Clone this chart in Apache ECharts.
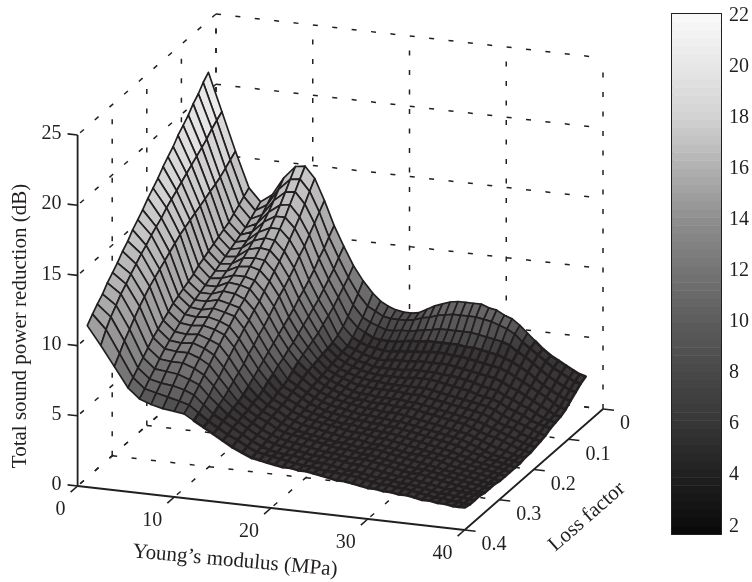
<!DOCTYPE html>
<html><head><meta charset="utf-8">
<style>html,body{margin:0;padding:0;background:#fff}#c{width:752px;height:582px}</style>
<script src="https://cdn.jsdelivr.net/npm/echarts@6/dist/echarts.min.js"></script>
</head><body><div id="c"></div>
<script>
const modulusTicks=[0,10,20,30,40];
const lossTicks=[0,0.1,0.2,0.3,0.4];
const zTicks=[0,5,10,15,20,25];
const barTicks=[2,4,6,8,10,12,14,16,18,20,22];
const toneZ=[1.7,2,4,6,8,10,12,14,16,18,20,22.05];
const toneGray=[8,12,32,54,72,92,116,142,176,210,230,250];
const shadeZ=[1.7,5.6,6,7,8,9,11,14,17,20,22.05];
const shadeGray=[40,62,74,98,114,132,158,186,212,232,242];
const modulusGrid=[1,2.4,3.8,5.2,6.4,7.6,8.8,10,11,12,13,14,15,16,17,18,18.8,19.6,20.4,21.2,22,22.8,23.6,24.4,25.2,26,26.8,27.6,28.4,29.2,30,30.8,31.6,32.4,33.2,34,34.8,35.6,36.4,37.2,38,38.8,39.4,40];
const lossGrid=[.05,.065,.079,.094,.108,.123,.138,.152,.167,.181,.196,.21,.225,.24,.254,.269,.283,.298,.313,.327,.342,.356,.371,.385,.40];
const surfaceZ=[
[22.0,21.6,21.1,20.7,20.2,19.8,19.4,18.9,18.5,18.1,17.6,17.2,16.8,16.3,15.9,15.5,15.0,14.6,14.1,13.7,13.3,12.8,12.4,12.0,11.5],
[19.3,19.0,18.7,18.3,18.0,17.7,17.4,17.1,16.8,16.5,16.2,15.9,15.5,15.2,14.9,14.5,14.2,13.8,13.4,13.0,12.6,12.1,11.6,11.0,10.2],
[16.6,16.3,16.0,15.7,15.5,15.3,15.1,14.9,14.7,14.5,14.3,14.1,13.8,13.5,13.2,12.9,12.6,12.3,11.9,11.5,11.0,10.5,10.0,9.4,8.8],
[14.1,13.8,13.5,13.2,12.9,12.7,12.5,12.3,12.1,11.9,11.7,11.4,11.2,11.0,10.8,10.6,10.3,10.0,9.7,9.4,9.0,8.6,8.2,7.8,7.4],
[13.2,12.9,12.6,12.3,12.1,11.9,11.7,11.5,11.3,11.1,10.9,10.7,10.5,10.3,10.1,9.9,9.6,9.3,9.0,8.7,8.3,7.9,7.5,7.1,6.7],
[13.8,13.4,13.0,12.7,12.4,12.1,11.9,11.6,11.4,11.2,11.0,10.7,10.5,10.3,10.0,9.8,9.5,9.2,8.9,8.6,8.2,7.8,7.3,6.9,6.4],
[15.1,14.6,14.1,13.6,13.2,12.8,12.5,12.2,11.9,11.6,11.3,11.1,10.8,10.5,10.2,9.9,9.6,9.3,9.0,8.6,8.2,7.7,7.2,6.7,6.2],
[16.0,15.4,14.8,14.2,13.7,13.2,12.8,12.4,12.0,11.7,11.3,11.0,10.7,10.3,10.0,9.7,9.4,9.0,8.7,8.3,7.9,7.4,7.0,6.5,6.1],
[16.1,15.5,14.9,14.3,13.7,13.2,12.7,12.3,11.9,11.5,11.1,10.8,10.4,10.1,9.8,9.4,9.1,8.7,8.3,7.9,7.5,7.1,6.7,6.3,6.0],
[15.3,14.7,14.1,13.5,13.0,12.5,12.0,11.6,11.2,10.8,10.4,10.0,9.7,9.3,9.0,8.6,8.3,7.9,7.5,7.1,6.8,6.4,6.1,5.8,5.6],
[13.8,13.3,12.8,12.3,11.8,11.4,10.9,10.5,10.1,9.8,9.4,9.0,8.6,8.3,7.9,7.6,7.2,6.9,6.6,6.3,6.0,5.8,5.5,5.3,5.2],
[12.1,11.6,11.1,10.7,10.2,9.8,9.4,9.1,8.7,8.4,8.1,7.8,7.5,7.2,6.9,6.6,6.3,6.0,5.7,5.5,5.4,5.2,5.1,4.9,4.8],
[10.7,10.2,9.7,9.3,8.9,8.5,8.2,7.9,7.6,7.3,7.0,6.8,6.5,6.3,6.0,5.8,5.5,5.3,5.2,5.0,4.9,4.8,4.7,4.5,4.4],
[9.4,8.9,8.5,8.1,7.7,7.4,7.1,6.8,6.6,6.4,6.2,6.0,5.7,5.4,5.2,5.1,4.9,4.8,4.7,4.6,4.5,4.4,4.3,4.2,4.0],
[8.4,7.8,7.3,6.8,6.4,6.1,5.9,5.8,5.7,5.6,5.5,5.4,5.2,5.0,4.9,4.7,4.6,4.5,4.4,4.3,4.1,4.0,3.9,3.8,3.7],
[7.6,7.0,6.5,6.1,5.7,5.4,5.3,5.2,5.1,5.0,4.9,4.8,4.7,4.6,4.5,4.4,4.2,4.1,4.0,3.9,3.8,3.7,3.6,3.5,3.4],
[7.1,6.7,6.2,5.8,5.4,5.2,5.0,4.9,4.8,4.7,4.6,4.5,4.4,4.3,4.2,4.1,4.0,3.9,3.8,3.7,3.6,3.5,3.4,3.4,3.3],
[6.8,6.4,6.0,5.5,5.2,5.0,4.8,4.7,4.6,4.5,4.4,4.3,4.2,4.1,4.0,3.9,3.8,3.7,3.6,3.6,3.5,3.4,3.3,3.3,3.2],
[6.6,6.3,5.8,5.4,5.1,4.8,4.7,4.5,4.4,4.3,4.2,4.1,4.0,3.9,3.8,3.8,3.7,3.6,3.5,3.5,3.4,3.3,3.2,3.2,3.1],
[6.5,6.3,5.8,5.4,5.0,4.7,4.5,4.4,4.3,4.1,4.0,3.9,3.9,3.8,3.7,3.6,3.6,3.5,3.4,3.4,3.3,3.2,3.2,3.1,3.0],
[6.5,6.3,5.9,5.4,5.0,4.7,4.5,4.3,4.2,4.1,3.9,3.8,3.8,3.7,3.6,3.5,3.5,3.4,3.3,3.3,3.2,3.1,3.1,3.0,3.0],
[6.6,6.4,5.9,5.5,5.1,4.8,4.5,4.3,4.2,4.0,3.9,3.8,3.7,3.6,3.5,3.4,3.4,3.3,3.2,3.2,3.1,3.0,3.0,2.9,2.9],
[6.9,6.6,6.0,5.6,5.1,4.8,4.5,4.3,4.1,4.0,3.8,3.7,3.6,3.5,3.4,3.4,3.3,3.2,3.1,3.1,3.0,3.0,2.9,2.9,2.9],
[7.2,6.7,6.1,5.6,5.2,4.8,4.5,4.3,4.1,4.0,3.8,3.7,3.6,3.5,3.4,3.3,3.2,3.1,3.1,3.0,3.0,2.9,2.9,2.8,2.8],
[7.4,6.9,6.2,5.7,5.2,4.9,4.6,4.3,4.1,4.0,3.8,3.7,3.5,3.4,3.3,3.2,3.2,3.1,3.0,3.0,2.9,2.9,2.8,2.7,2.7],
[7.6,7.0,6.3,5.7,5.3,4.9,4.6,4.4,4.1,3.9,3.8,3.6,3.5,3.4,3.3,3.2,3.1,3.0,2.9,2.9,2.8,2.8,2.7,2.7,2.6],
[7.7,7.1,6.3,5.7,5.3,4.9,4.6,4.4,4.1,3.9,3.7,3.6,3.5,3.3,3.2,3.1,3.0,2.9,2.9,2.8,2.8,2.7,2.6,2.6,2.5],
[7.7,7.1,6.3,5.7,5.3,4.9,4.6,4.4,4.1,3.9,3.7,3.6,3.4,3.3,3.2,3.1,3.0,2.9,2.9,2.8,2.8,2.7,2.6,2.6,2.5],
[7.7,7.1,6.3,5.7,5.2,4.9,4.5,4.3,4.0,3.8,3.6,3.5,3.3,3.2,3.1,3.0,2.9,2.8,2.8,2.7,2.7,2.6,2.5,2.5,2.4],
[7.7,7.1,6.3,5.6,5.2,4.8,4.5,4.2,3.9,3.7,3.5,3.4,3.2,3.1,3.0,2.9,2.8,2.7,2.7,2.6,2.6,2.5,2.4,2.4,2.3],
[7.5,7.0,6.2,5.6,5.1,4.7,4.4,4.1,3.8,3.6,3.4,3.3,3.1,3.0,2.9,2.8,2.7,2.6,2.6,2.5,2.5,2.4,2.3,2.3,2.2],
[7.4,6.9,6.1,5.5,5.0,4.6,4.3,4.0,3.7,3.5,3.3,3.2,3.0,2.9,2.8,2.7,2.6,2.5,2.5,2.4,2.4,2.3,2.3,2.2,2.2],
[7.1,6.7,6.0,5.4,4.9,4.5,4.2,3.9,3.6,3.4,3.2,3.1,2.9,2.8,2.7,2.6,2.5,2.5,2.4,2.3,2.3,2.2,2.2,2.2,2.1],
[6.9,6.5,5.9,5.3,4.8,4.4,4.0,3.7,3.5,3.3,3.1,3.0,2.8,2.7,2.6,2.5,2.4,2.4,2.3,2.2,2.2,2.2,2.1,2.1,2.1],
[6.5,6.2,5.7,5.1,4.7,4.3,3.9,3.6,3.4,3.2,3.0,2.9,2.7,2.6,2.5,2.4,2.3,2.3,2.2,2.2,2.2,2.1,2.1,2.1,2.0],
[6.0,5.7,5.3,4.9,4.5,4.1,3.8,3.5,3.3,3.1,2.9,2.7,2.6,2.5,2.4,2.3,2.2,2.2,2.1,2.1,2.1,2.0,2.0,2.0,2.0],
[5.5,5.3,5.0,4.6,4.2,3.8,3.5,3.3,3.1,2.9,2.7,2.5,2.4,2.3,2.2,2.1,2.1,2.0,2.0,2.0,2.0,1.9,1.9,1.9,1.9],
[5.0,4.9,4.6,4.3,3.9,3.6,3.3,3.0,2.8,2.6,2.5,2.3,2.2,2.1,2.0,2.0,1.9,1.9,1.9,1.9,1.9,1.8,1.8,1.8,1.8],
[4.6,4.5,4.2,3.9,3.6,3.3,3.0,2.8,2.6,2.4,2.3,2.2,2.0,1.9,1.9,1.8,1.8,1.8,1.8,1.8,1.8,1.7,1.7,1.7,1.8],
[4.3,4.1,3.8,3.5,3.3,3.0,2.8,2.6,2.4,2.3,2.1,2.0,1.8,1.7,1.7,1.7,1.7,1.7,1.7,1.7,1.7,1.7,1.7,1.7,1.7],
[4.0,3.8,3.5,3.2,3.0,2.7,2.5,2.3,2.2,2.0,1.9,1.8,1.7,1.6,1.6,1.6,1.6,1.6,1.6,1.6,1.6,1.6,1.6,1.6,1.7],
[3.7,3.5,3.2,2.9,2.6,2.4,2.2,2.1,2.0,1.8,1.7,1.6,1.5,1.5,1.5,1.5,1.5,1.5,1.5,1.5,1.5,1.6,1.6,1.6,1.6],
[3.5,3.3,3.0,2.7,2.4,2.2,2.1,2.0,1.8,1.7,1.6,1.5,1.4,1.4,1.4,1.4,1.4,1.4,1.4,1.4,1.4,1.5,1.5,1.5,1.6],
[3.4,3.2,2.9,2.6,2.3,2.1,2.0,1.9,1.7,1.6,1.5,1.4,1.4,1.3,1.3,1.3,1.3,1.3,1.4,1.4,1.4,1.5,1.5,1.5,1.6]
];
const INK='#231f20';
const FONT='"Liberation Serif","Times New Roman",serif';
const DARK_Z=5.6, SLIT='#383636';
/* orthographic view: data → flat plane, which the hidden cartesian axes map to pixels */
const proj=(E,L,z)=>[216+9.675*E-346*L, 365+1.1*E+302.5*L-14.04*z];
const BANDS=64, BAR_MIN=1.7, BAR_MAX=22.05;
function grayOf(z,xs,ys){
  const t=Math.max(BAR_MIN,Math.min(BAR_MAX,z));
  const b=Math.min(BANDS-1,Math.floor((t-BAR_MIN)/(BAR_MAX-BAR_MIN)*BANDS));
  const c=BAR_MIN+(b+.5)*(BAR_MAX-BAR_MIN)/BANDS;
  let i=0; while(i<xs.length-2&&c>xs[i+1])i++;
  const g=Math.round(ys[i]+(ys[i+1]-ys[i])*(c-xs[i])/(xs[i+1]-xs[i]));
  return `rgb(${g},${g},${g})`;
}
/* cells back to front */
const cells=[];
for(let j=0;j<lossGrid.length-1;j++)for(let i=0;i<modulusGrid.length-1;i++)cells.push([i,j]);
/* dashed grid + solid axes */
let segs=[];
const M0=0,M1=40,L0=0,L1=.4,Z0=0,Z1=25;
zTicks.forEach(z=>{segs.push([M0,L0,z,M0,L1,z]);segs.push([M0,L0,z,M1,L0,z]);});
lossTicks.forEach(l=>{if(l<L1){segs.push([M0,l,Z0,M0,l,Z1]);segs.push([M0,l,Z0,M1,l,Z0]);}});
modulusTicks.forEach(m=>{segs.push([m,L0,Z0,m,L0,Z1]);if(m<M1)segs.push([m,L0,Z0,m,L1,Z0]);});
const axes=[[M0,L1,Z0,M1,L1,Z0],[M1,L0,Z0,M1,L1,Z0],[M0,L1,Z0,M0,L1,Z1]];
const ticks=[];
zTicks.forEach(z=>ticks.push([M0,L1,z,-10,-1.1]));
modulusTicks.forEach(m=>ticks.push([m,L1,Z0,-7,6.2]));
lossTicks.forEach(l=>ticks.push([M1,l,Z0,11,1.2]));
const labels=[];
zTicks.forEach(z=>{const p=proj(M0,L1,z);labels.push([String(z),p[0]-16,p[1]-1,'right']);});
modulusTicks.forEach(m=>{const p=proj(m,L1,Z0);labels.push([String(m),p[0]-12,p[1]+24,'right']);});
lossTicks.forEach(l=>{const p=proj(M1,l,Z0);labels.push([String(l),p[0]+17,p[1]+15,'left']);});
const titles=[["Young\u2019s modulus (MPa)",235,561,-0.09],["Loss factor",587,517,0.72],["Total sound power reduction (dB)",20,326,Math.PI/2]];
const bandEdges=[];
for(let b=0;b<BANDS;b++)bandEdges.push(BAR_MIN+b*(BAR_MAX-BAR_MIN)/BANDS);
const chart=echarts.init(document.getElementById('c'),null,{renderer:'canvas'});
const hiddenAxis={show:false,axisLine:{show:false},axisTick:{show:false},axisLabel:{show:false},splitLine:{show:false}};
const barTickStyle={customValues:barTicks,inside:true,length:6,lineStyle:{color:INK,width:1.6}};
const barLine={show:true,onZero:false,lineStyle:{color:INK,width:2}};
chart.setOption({
  animation:false,backgroundColor:'#fff',
  grid:[{left:0,top:0,width:752,height:582},{left:672,top:14,width:49,height:520}],
  xAxis:[
    {type:'value',gridIndex:0,min:0,max:752,...hiddenAxis},
    {type:'value',gridIndex:1,min:0,max:1,position:'bottom',axisLine:barLine,axisTick:{show:false},axisLabel:{show:false},splitLine:{show:false}},
    {type:'value',gridIndex:1,min:0,max:1,position:'top',axisLine:barLine,axisTick:{show:false},axisLabel:{show:false},splitLine:{show:false}}
  ],
  yAxis:[
    {type:'value',gridIndex:0,min:0,max:582,inverse:true,...hiddenAxis},
    {type:'value',gridIndex:1,min:BAR_MIN,max:BAR_MAX,position:'right',axisLine:barLine,axisTick:barTickStyle,splitLine:{show:false},
      axisLabel:{customValues:barTicks,inside:false,margin:8,color:INK,fontFamily:FONT,fontSize:20}},
    {type:'value',gridIndex:1,min:BAR_MIN,max:BAR_MAX,position:'left',axisLine:barLine,axisTick:barTickStyle,axisLabel:{show:false},splitLine:{show:false}}
  ],
  series:[
   {type:'custom',xAxisIndex:0,yAxisIndex:0,silent:true,z:1,clip:false,data:segs,encode:{x:[],y:[]},
    renderItem(p,api){const s=segs[p.dataIndex];const a=api.coord(proj(s[0],s[1],s[2])),b=api.coord(proj(s[3],s[4],s[5]));
      return {type:'line',shape:{x1:a[0],y1:a[1],x2:b[0],y2:b[1]},style:{stroke:INK,lineWidth:1.5,lineDash:[5,14.5],fill:null}};}},
   {type:'custom',xAxisIndex:0,yAxisIndex:0,silent:true,z:2,clip:false,data:axes,encode:{x:[],y:[]},
    renderItem(p,api){const s=axes[p.dataIndex];const a=api.coord(proj(s[0],s[1],s[2])),b=api.coord(proj(s[3],s[4],s[5]));
      return {type:'line',shape:{x1:a[0],y1:a[1],x2:b[0],y2:b[1]},style:{stroke:INK,lineWidth:1.8,fill:null}};}},
   {type:'custom',xAxisIndex:0,yAxisIndex:0,silent:true,z:2,clip:false,data:ticks,encode:{x:[],y:[]},
    renderItem(p,api){const s=ticks[p.dataIndex];const a=api.coord(proj(s[0],s[1],s[2]));
      return {type:'line',shape:{x1:a[0],y1:a[1],x2:a[0]+s[3],y2:a[1]+s[4]},style:{stroke:INK,lineWidth:1.6,fill:null}};}},
   {type:'custom',xAxisIndex:0,yAxisIndex:0,silent:true,z:3,clip:false,progressive:0,data:cells,encode:{x:[],y:[]},
    renderItem(p,api){const c=cells[p.dataIndex],i=c[0],j=c[1];
      const zs=[surfaceZ[i][j],surfaceZ[i+1][j],surfaceZ[i+1][j+1],surfaceZ[i][j+1]];
      const pts=[[i,j],[i+1,j],[i+1,j+1],[i,j+1]].map((q,k)=>api.coord(proj(modulusGrid[q[0]],lossGrid[q[1]],zs[k])));
      const mean=(zs[0]+zs[1]+zs[2]+zs[3])/4, dark=mean<DARK_Z;
      return {type:'polygon',shape:{points:pts},style:{fill:dark?SLIT:grayOf(mean,shadeZ,shadeGray),stroke:INK,lineWidth:dark?2.6:1.7,lineJoin:'round'}};}},
   {type:'custom',xAxisIndex:0,yAxisIndex:0,silent:true,z:4,clip:false,data:labels,encode:{x:[],y:[]},
    renderItem(p,api){const s=labels[p.dataIndex];const a=api.coord([s[1],s[2]]);
      return {type:'text',x:a[0],y:a[1],style:{text:s[0],fill:INK,font:'20px '+FONT,textAlign:s[3],textVerticalAlign:'middle'}};}},
   {type:'custom',xAxisIndex:0,yAxisIndex:0,silent:true,z:4,clip:false,data:titles,encode:{x:[],y:[]},
    renderItem(p,api){const s=titles[p.dataIndex];const a=api.coord([s[1],s[2]]);
      return {type:'text',x:a[0],y:a[1],rotation:s[3],style:{text:s[0],fill:INK,font:'21px '+FONT,textAlign:'center',textVerticalAlign:'middle'}};}},
   {type:'custom',xAxisIndex:1,yAxisIndex:1,silent:true,z:1,clip:true,data:bandEdges,encode:{x:[],y:[]},
    renderItem(p,api){const v=bandEdges[p.dataIndex];const h=(BAR_MAX-BAR_MIN)/BANDS;
      const a=api.coord([0,v+h]),b=api.coord([1,v]);
      return {type:'rect',shape:{x:a[0],y:a[1],width:b[0]-a[0],height:b[1]-a[1]+.5},style:{fill:grayOf(v+h/2,toneZ,toneGray)}};}}
  ]
});
</script></body></html>
